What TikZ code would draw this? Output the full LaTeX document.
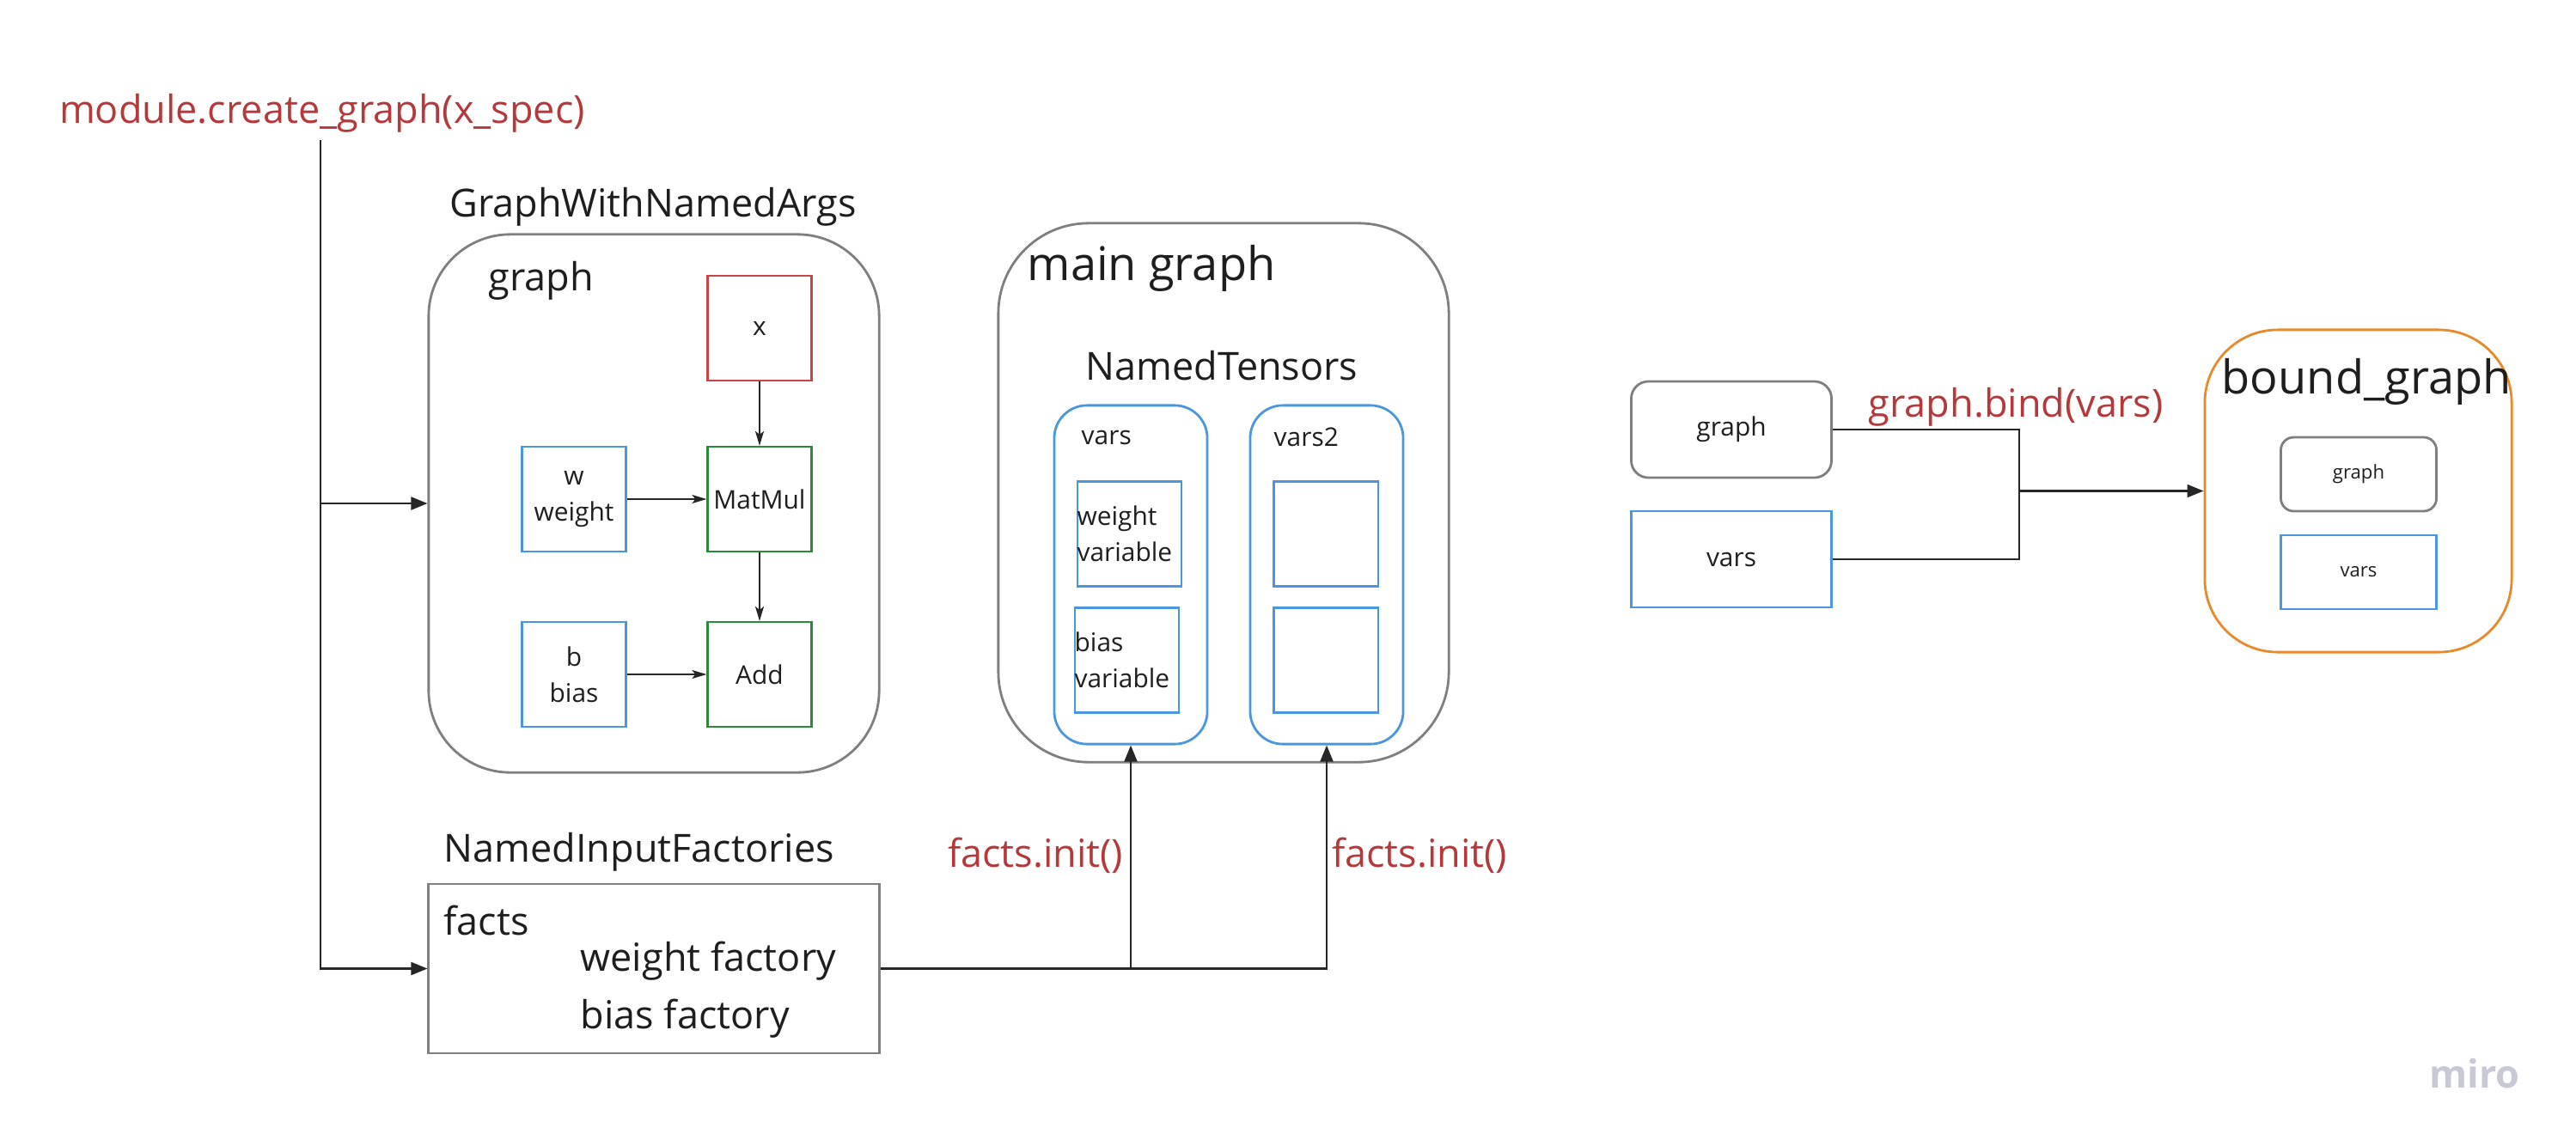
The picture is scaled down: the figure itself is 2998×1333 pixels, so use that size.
\documentclass[tikz,border=0pt]{standalone}
\usepackage{fontspec}
\setmainfont{Open Sans}
\usetikzlibrary{arrows.meta}
\definecolor{cgray}{HTML}{7F7F7F}
\definecolor{cblue}{HTML}{4A97DD}
\definecolor{cgreen}{HTML}{2A8A3A}
\definecolor{cboxred}{HTML}{C94545}
\definecolor{ctxtred}{HTML}{B5393B}
\definecolor{corange}{HTML}{E68A2C}
\definecolor{ctext}{HTML}{1E1E1E}
\definecolor{cmiro}{HTML}{C9C9D6}
\newcommand\fbig{\fontsize{15.4}{18}\selectfont}
\newcommand\fmid{\fontsize{12.8}{18}\selectfont}
\newcommand\fsmall{\fontsize{8.5}{12}\selectfont}
\newcommand\ftiny{\fontsize{6.3}{8}\selectfont}
\tikzset{
  lbl/.style={inner sep=0, anchor=west, text=ctext},
  sq/.style={draw, line width=0.6pt, inner sep=0, minimum width=1.21cm, minimum height=1.22cm, font=\fsmall, align=center, text=ctext},
  rbox/.style={draw=cgray, line width=0.8pt, inner sep=0},
  conn/.style={line width=0.6pt, draw=black!85},
  tip/.style={-{Triangle[length=0.19cm,width=0.15cm]}},
  stip/.style={-{Stealth[length=0.17cm,width=0.1cm,inset=0.04cm]}},
  redlbl/.style={inner sep=0, text=ctxtred, font=\fmid},
}
\begin{document}
\begin{tikzpicture}[x=0.01cm,y=-0.01cm]
\useasboundingbox (0,0) rectangle (2998,1333);

% top label and feed line
\node[redlbl] (cg) at (375,132) {module.create\_graph(x\_spec)};
\coordinate (cgtop) at (373,163);

% GraphWithNamedArgs
\node[lbl, font=\fmid, anchor=center] (gwnalbl) at (760,241) {GraphWithNamedArgs};
\node[rbox, rounded corners=0.95cm, minimum width=5.24cm, minimum height=6.26cm] (gwna) at (761,586) {};
\node[lbl, font=\fmid] (graphlbl) at (568,327) {graph};
\node[sq, draw=cboxred] (x) at (884,382) {x};
\node[sq, draw=cblue] (w) at (668,581) {w\\weight};
\node[sq, draw=cgreen] (mm) at (884,581) {MatMul};
\node[sq, draw=cblue] (b) at (668,785) {b\\bias};
\node[sq, draw=cgreen] (add) at (884,785) {Add};
\draw[conn, stip] (x) -- (mm);
\draw[conn, stip] (mm) -- (add);
\draw[conn, stip] (w) -- (mm);
\draw[conn, stip] (b) -- (add);

% main graph
\node[rbox, rounded corners=1.05cm, minimum width=5.24cm, minimum height=6.27cm] (main) at (1424,573.5) {};
\node[lbl, font=\fbig] (mainlbl) at (1195,312) {main graph};
\node[lbl, font=\fmid, anchor=center] (ntlbl) at (1422,426) {NamedTensors};
\node[draw=cblue, line width=0.8pt, rounded corners=0.38cm, inner sep=0, minimum width=1.78cm, minimum height=3.94cm] (varsA) at (1316,669) {};
\node[draw=cblue, line width=0.8pt, rounded corners=0.38cm, inner sep=0, minimum width=1.78cm, minimum height=3.94cm] (varsB) at (1544,669) {};
\node[lbl, font=\fsmall] (varsAlbl) at (1258,509) {vars};
\node[lbl, font=\fsmall] (varsBlbl) at (1482,509) {vars2};
\node[sq, draw=cblue] (wv) at (1314.5,621.5) {};
\node[lbl, font=\fsmall, align=left] (wvt) at (wv.west) {weight\\variable};
\node[sq, draw=cblue] (bv) at (1311.5,768.5) {};
\node[lbl, font=\fsmall, align=left] (bvt) at (bv.west) {bias\\variable};
\node[sq, draw=cblue] (e1) at (1543,621.5) {};
\node[sq, draw=cblue] (e2) at (1543,768.5) {};

% NamedInputFactories
\node[lbl, font=\fmid] (niflbl) at (516,992) {NamedInputFactories};
\node[rbox, minimum width=5.24cm, minimum height=1.97cm] (facts) at (761,1127.5) {};
\node[lbl, font=\fmid] (factslbl) at (516,1071) {facts};
\node[lbl, font=\fmid, align=left] (factitems) at (675,1152) {weight factory\\[1pt]bias factory};

\draw[conn, tip] (cgtop) |- (gwna.west);
\draw[conn, tip] (cgtop) |- (facts.west);

\coordinate (fj) at (facts.east -| varsA.south);
\draw[conn, tip] (facts.east) -| (varsA.south);
\draw[conn, tip] (fj) -| (varsB.south);
\node[redlbl] (fi1) at (1205,996) {facts.init()};
\node[redlbl] (fi2) at (1652,996) {facts.init()};

% right part
\node[rbox, rounded corners=0.2cm, minimum width=2.33cm, minimum height=1.12cm, font=\fsmall, text=ctext] (g1) at (2015,500) {graph};
\node[draw=cblue, line width=0.8pt, inner sep=0, minimum width=2.33cm, minimum height=1.12cm, font=\fsmall, text=ctext] (v1) at (2015,651) {vars};
\node[draw=corange, line width=0.8pt, rounded corners=0.85cm, inner sep=0, minimum width=3.57cm, minimum height=3.75cm] (bound) at (2744.5,571.5) {};
\node[lbl, font=\fbig] (boundlbl) at (2585,444) {bound\_graph};
\node[rbox, rounded corners=0.15cm, minimum width=1.81cm, minimum height=0.86cm, font=\ftiny, text=ctext] (g2) at (2745,552) {graph};
\node[draw=cblue, line width=0.8pt, inner sep=0, minimum width=1.81cm, minimum height=0.86cm, font=\ftiny, text=ctext] (v2) at (2745,666) {vars};
\coordinate (bj) at (2350,571.5);
\draw[conn] (g1.east) -| (bj) |- (v1.east);
\draw[conn, tip] (bj) -- (bound.west);
\node[redlbl] (bindlbl) at (2346,474) {graph.bind(vars)};

% watermark
\node[inner sep=0, text=cmiro, font=\fmid\bfseries] (miro) at (2880,1250) {miro};
\end{tikzpicture}
\end{document}
